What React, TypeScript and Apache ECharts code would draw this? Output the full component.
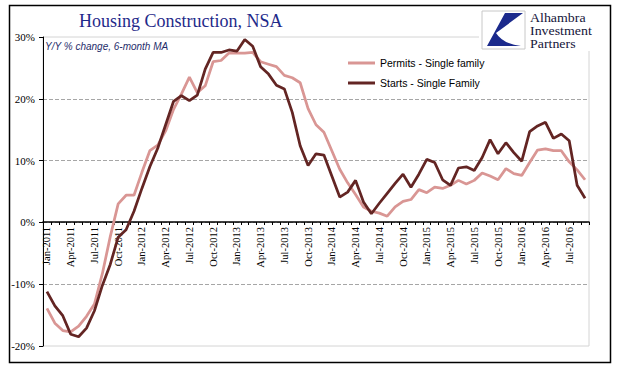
import React, { useEffect, useRef } from "react";
import * as echarts from "echarts";

const MONTHS = ["Jan", "Feb", "Mar", "Apr", "May", "Jun", "Jul", "Aug", "Sep", "Oct", "Nov", "Dec"];
const START_YEAR = 2011;
const N_MONTHS = 69; // Jan-2011 .. Sep-2016
const categories: string[] = [];
for (let i = 0; i < N_MONTHS; i++) {
  categories.push(MONTHS[i % 12] + "-" + (START_YEAR + Math.floor(i / 12)));
}

const permits = [
  -13.9, -16.3, -17.5, -17.7, -16.8, -15.2, -13.2, -8.3, -2.3, 3.0, 4.4, 4.4,
  8.1, 11.6, 12.5, 14.8, 18.3, 20.8, 23.5, 21.0, 22.1, 26.0, 26.2, 27.4,
  27.4, 27.4, 27.5, 26.0, 25.6, 25.2, 23.8, 23.4, 22.6, 18.4, 15.8, 14.6,
  11.6, 8.6, 6.4, 4.5, 2.5, 1.8, 1.5, 1.0, 2.5, 3.4, 3.7, 5.3,
  4.8, 5.7, 5.5, 6.0, 6.8, 6.2, 6.8, 8.0, 7.5, 6.9, 8.7, 7.9,
  7.6, 9.7, 11.7, 11.9, 11.6, 11.6, 9.8, 8.5, 6.9,
];

const starts = [
  -11.2, -13.5, -15.1, -18.1, -18.5, -17.1, -14.3, -10.2, -6.8, -2.4, -1.2, 1.8,
  5.5, 9.0, 12.0, 15.8, 19.6, 20.5, 19.7, 20.6, 24.8, 27.5, 27.5, 27.9,
  27.7, 29.6, 28.5, 25.2, 24.0, 22.2, 21.6, 17.8, 12.4, 9.2, 11.1, 10.9,
  7.5, 4.1, 4.9, 6.8, 3.3, 1.4, 3.1, 4.7, 6.3, 7.8, 5.7, 7.8,
  10.2, 9.7, 6.9, 6.0, 8.8, 9.0, 8.4, 10.5, 13.4, 11.1, 12.9, 11.3,
  9.9, 14.7, 15.6, 16.2, 13.6, 14.3, 13.2, 6.0, 3.9,
];

const seriesNames = ["Permits - Single family", "Starts - Single Family"];
const seriesColors = ["#d99694", "#632523"];

const TITLE = "Housing Construction, NSA";
const SUBTITLE = "Y/Y % change, 6-month MA";
const LOGO_LINES = ["Alhambra", "Investment", "Partners"];

let registered = false;
function registerLogo() {
  if (registered) return;
  registered = true;
  const d = "M505,13 L523,13 L496,33 Q503,44 521,46 L487,46 Z";
  echarts.graphic.registerShape("logo", echarts.graphic.extendPath(d, {}));
}

export default function App() {
  const ref = useRef<HTMLDivElement>(null);
  useEffect(() => {
    if (!ref.current) return;
    registerLogo();
    const chart = echarts.init(ref.current, null, { renderer: "svg" });
    const logoTexts = LOGO_LINES.map((t, i) => ({
      type: "text",
      z: 102,
      silent: true,
      x: 530,
      y: 11 + i * 13,
      scaleX: 1.07,
      style: {
        text: t,
        font: "13px 'Liberation Serif'",
        fill: "#14143a",
        textVerticalAlign: "top",
      },
    }));
    const option: any = {
      animation: false,
      backgroundColor: "#ffffff",
      title: {
        text: TITLE,
        left: 74,
        top: 7,
        textStyle: {
          fontFamily: "Liberation Serif",
          fontSize: 18,
          fontWeight: "normal",
          color: "#1f2a8a",
        },
      },
      legend: {
        orient: "vertical",
        left: 343,
        top: 52,
        icon: "rect",
        itemWidth: 27,
        itemHeight: 3,
        itemGap: 8,
        selectedMode: false,
        data: seriesNames,
        textStyle: {
          fontFamily: "Liberation Sans",
          fontSize: 10.5,
          color: "#000",
          lineHeight: 12,
        },
      },
      grid: {
        left: 43,
        top: 37,
        right: 29,
        bottom: 35,
        show: true,
        borderColor: "#d4d4d4",
        borderWidth: 1,
        backgroundColor: "transparent",
      },
      xAxis: {
        type: "category",
        data: categories,
        boundaryGap: true,
        position: "bottom",
        offset: -124,
        axisLine: { onZero: false, lineStyle: { color: "#000", width: 1.5 } },
        axisTick: { show: true, interval: 0, length: 3, lineStyle: { color: "#000" } },
        axisLabel: {
          interval: (i: number) => i % 3 === 0,
          rotate: 90,
          margin: 5,
          fontFamily: "Liberation Serif",
          fontSize: 10.5,
          color: "#000",
        },
        splitLine: { show: false },
      },
      yAxis: {
        type: "value",
        min: -20,
        max: 30,
        interval: 10,
        axisLine: { show: true, lineStyle: { color: "#000", width: 1 } },
        axisTick: { show: true, length: 4, lineStyle: { color: "#000" } },
        axisLabel: {
          formatter: "{value}%",
          margin: 8,
          fontFamily: "Liberation Serif",
          fontSize: 11,
          color: "#000",
        },
        splitLine: {
          show: true,
          showMinLine: false,
          showMaxLine: false,
          lineStyle: { type: "dashed", color: "#a6a6a6", width: 1 },
        },
      },
      series: [
        {
          name: seriesNames[0],
          type: "line",
          data: permits,
          symbol: "none",
          color: seriesColors[0],
          lineStyle: { width: 2.75, color: seriesColors[0] },
          z: 2,
        },
        {
          name: seriesNames[1],
          type: "line",
          data: starts,
          symbol: "none",
          color: seriesColors[1],
          lineStyle: { width: 2.75, color: seriesColors[1] },
          z: 3,
        },
      ],
      graphic: [
        {
          type: "rect",
          z: 0,
          silent: true,
          shape: { x: 9.5, y: 5.5, width: 601, height: 357 },
          style: { fill: "none", stroke: "#000", lineWidth: 1.5 },
        },
        {
          type: "rect",
          z: 100,
          silent: true,
          shape: { x: 479, y: 7, width: 129, height: 44 },
          style: { fill: "#fff", stroke: "none" },
        },
        {
          type: "rect",
          z: 101,
          silent: true,
          shape: { x: 482, y: 11, width: 43, height: 38 },
          style: { fill: "#fff", stroke: "#c8c8c8", lineWidth: 1 },
        },
        {
          type: "logo",
          z: 102,
          silent: true,
          x: 0,
          y: 0,
          style: { fill: "#1b2a8c", stroke: "none" },
        },
        ...logoTexts,
        {
          type: "text",
          z: 50,
          silent: true,
          x: 45,
          y: 46,
          style: {
            text: SUBTITLE,
            font: "italic 10px 'Liberation Sans'",
            fill: "#1f2d6b",
            textVerticalAlign: "middle",
          },
        },
      ],
    };
    chart.setOption(option);
    return () => chart.dispose();
  }, []);
  return (
    <div
      ref={ref}
      style={{ position: "fixed", left: 0, top: 0, width: 618, height: 381, background: "#fff" }}
    />
  );
}
